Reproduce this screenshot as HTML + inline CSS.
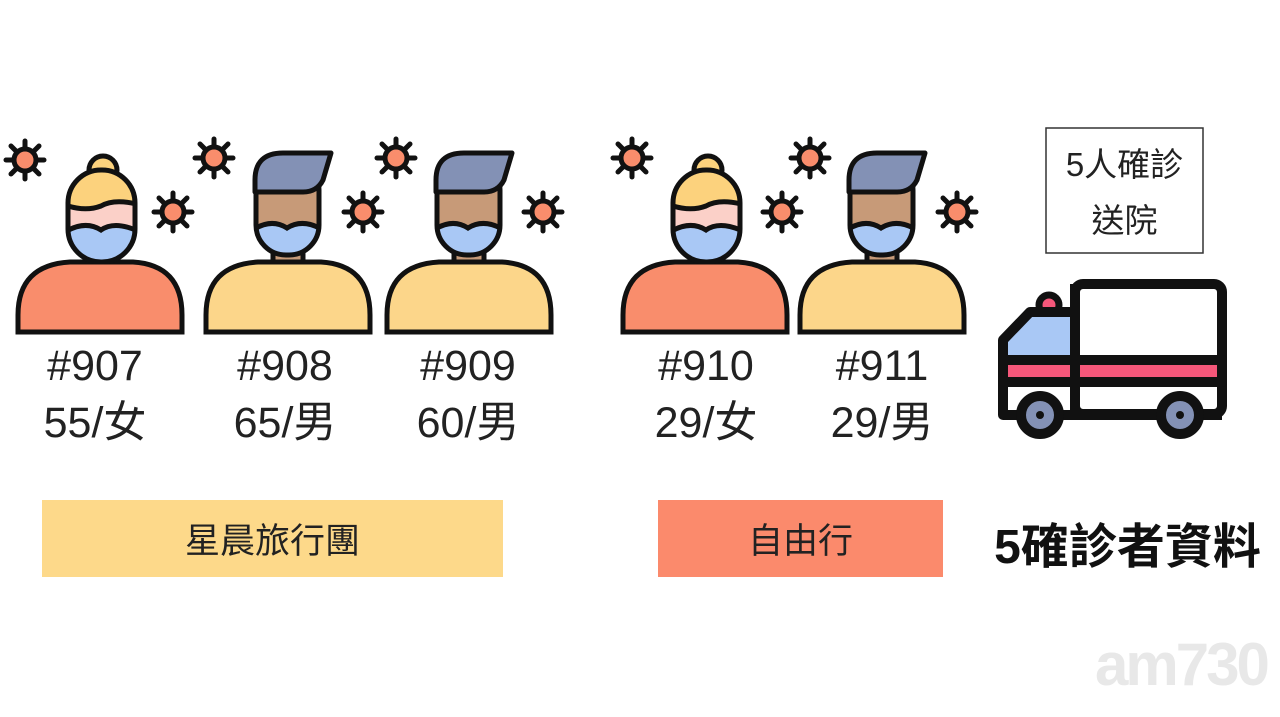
<!DOCTYPE html>
<html><head><meta charset="utf-8"><style>
body{margin:0;width:1280px;height:717px;background:#fff;overflow:hidden;position:relative;font-family:"Liberation Sans","Noto Sans CJK TC",sans-serif}
.t{position:absolute;text-align:center;color:#222;font-size:43px;line-height:57px}
.box{position:absolute;display:flex;align-items:center;justify-content:center;font-size:35px;color:#222}
</style></head><body>
<svg width="1280" height="717" style="position:absolute;left:0;top:0">
<defs>
<g id="v"><g stroke="#111" stroke-width="5" stroke-linecap="round">
<line x1="0" y1="-19" x2="0" y2="19"/><line x1="-19" y1="0" x2="19" y2="0"/>
<line x1="-14" y1="-14" x2="14" y2="14"/><line x1="-14" y1="14" x2="14" y2="-14"/></g>
<circle r="11" fill="#f98d6c" stroke="#111" stroke-width="5"/></g>
<clipPath id="hc"><rect x="53" y="20" width="67" height="92" rx="33"/></clipPath>
<clipPath id="mc"><rect x="53" y="10" width="63" height="95" rx="30"/></clipPath>
<g id="f">
<rect x="75" y="95" width="28" height="30" fill="#fbd0c8" stroke="#111" stroke-width="5"/>
<path d="M3,182 L3,165 Q3,115 55,112 L118,112 Q167,115 167,165 L167,182 Z" fill="#f98d6c" stroke="#111" stroke-width="5"/>
<circle cx="88" cy="20" r="14" fill="#fcd27d" stroke="#111" stroke-width="5"/>
<g clip-path="url(#hc)"><rect x="50" y="15" width="75" height="100" fill="#fbd0c8"/>
<path d="M50,15 H125 V55 Q100,48 86,56 Q70,62 50,55 Z" fill="#fcd27d" stroke="#111" stroke-width="5"/>
<path d="M50,82 Q70,70 86,80 Q100,70 125,82 V115 H50 Z" fill="#a9c8f5" stroke="#111" stroke-width="5"/></g>
<rect x="53" y="20" width="67" height="92" rx="33" fill="none" stroke="#111" stroke-width="5"/>
</g>
<g id="m">
<rect x="70" y="95" width="30" height="30" fill="#c79a78" stroke="#111" stroke-width="5"/>
<path d="M3,182 L3,165 Q3,115 55,112 L118,112 Q167,115 167,165 L167,182 Z" fill="#fcd68a" stroke="#111" stroke-width="5"/>
<g clip-path="url(#mc)"><rect x="50" y="5" width="75" height="105" fill="#c79a78"/>
<path d="M50,80 Q68,68 84,78 Q100,68 120,80 V110 H50 Z" fill="#a9c8f5" stroke="#111" stroke-width="5"/></g>
<rect x="53" y="10" width="63" height="95" rx="30" fill="none" stroke="#111" stroke-width="5"/>
<path d="M52,42 L52,30 Q52,3 80,3 L128,3 L120,30 Q114,42 100,42 Z" fill="#8391b5" stroke="#111" stroke-width="5" stroke-linejoin="round"/>
</g>
</defs>
<use href="#v" x="25" y="160"/><use href="#v" x="173" y="212"/><use href="#v" x="214" y="158"/>
<use href="#v" x="363" y="212"/><use href="#v" x="396" y="158"/><use href="#v" x="543" y="212"/>
<use href="#v" x="632" y="158"/><use href="#v" x="782" y="212"/><use href="#v" x="810" y="158"/><use href="#v" x="957" y="212"/>
<use href="#f" x="15" y="150"/><use href="#m" x="203" y="150"/><use href="#m" x="384" y="150"/>
<use href="#f" x="620" y="150"/><use href="#m" x="797" y="150"/>
<g stroke="#111" stroke-width="10" stroke-linejoin="round">
<circle cx="1049" cy="305" r="10" fill="#f6577a" stroke-width="7"/>
<path d="M1003,345 L1003,340 L1030,312 L1075,312 L1075,370 L1003,370 Z" fill="#a9c8f5"/>
<rect x="1075" y="284" width="147" height="130" rx="8" fill="#fff"/>
<rect x="1003" y="360" width="219" height="22" fill="#f6577a"/>
<path d="M1003,340 V415 H1222" fill="none"/>
<line x1="1075" y1="284" x2="1075" y2="415"/>
<circle cx="1040" cy="415" r="19" fill="#8391b5"/>
<circle cx="1180" cy="415" r="19" fill="#8391b5"/>
</g>
<circle cx="1040" cy="415" r="4" fill="#111"/><circle cx="1180" cy="415" r="4" fill="#111"/>
<rect x="1046" y="128" width="157" height="125" fill="none" stroke="#333" stroke-width="1.5"/>
</svg>
<div class="t" style="left:35px;top:338px;width:120px">#907<br>55/女</div>
<div class="t" style="left:225px;top:338px;width:120px">#908<br>65/男</div>
<div class="t" style="left:408px;top:338px;width:120px">#909<br>60/男</div>
<div class="t" style="left:646px;top:338px;width:120px">#910<br>29/女</div>
<div class="t" style="left:822px;top:338px;width:120px">#911<br>29/男</div>
<div class="t" style="left:1046px;top:137px;width:157px;font-size:33px;line-height:56px">5人確診<br>送院</div>
<div class="box" style="left:42px;top:500px;width:461px;height:77px;background:#fdd98a">星晨旅行團</div>
<div class="box" style="left:658px;top:500px;width:285px;height:77px;background:#fb8a6c">自由行</div>
<div class="box" style="left:985px;top:510px;width:285px;height:64px;font-size:48px;font-weight:bold;color:#111">5確診者資料</div>
<div style="position:absolute;left:1095px;top:630px;font-size:60px;font-weight:bold;color:#e8e8e8;letter-spacing:-3px">am730</div>
</body></html>
